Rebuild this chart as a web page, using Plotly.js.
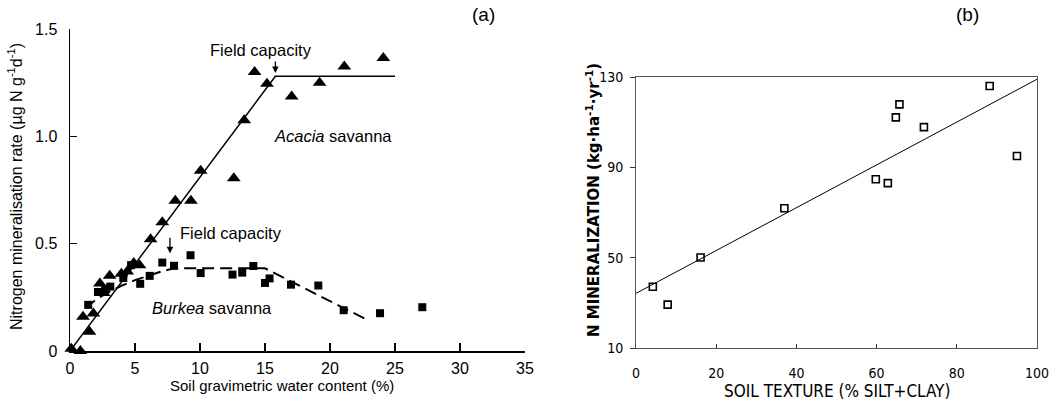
<!DOCTYPE html>
<html>
<head>
<meta charset="utf-8">
<script src="https://cdn.plot.ly/plotly-3.0.1.min.js"></script>
<style>html,body{margin:0;padding:0;background:#fff;}#chart{width:1059px;height:402px;}</style>
</head>
<body>
<div id="chart"></div>
<script>
// ---- Panel (a): Nitrogen mineralisation vs soil water content ----
const acaciaX = [0.1, 0.8, 1.0, 1.5, 1.8, 2.3, 2.6, 3.05, 3.95, 4.4, 4.9, 5.35, 6.2, 7.1, 8.1, 9.3, 10.05, 12.6, 13.4, 14.2, 15.15, 17.05, 19.2, 21.1, 24.1];
const acaciaY = [0.01, 0.0, 0.16, 0.09, 0.175, 0.315, 0.27, 0.35, 0.36, 0.37, 0.41, 0.40, 0.52, 0.60, 0.70, 0.70, 0.84, 0.805, 1.075, 1.30, 1.245, 1.185, 1.25, 1.325, 1.365];
const burkeaX = [1.4, 2.15, 2.7, 3.1, 4.1, 4.7, 5.4, 6.13, 7.1, 8.0, 9.27, 10.05, 12.5, 13.25, 14.1, 15.0, 15.35, 17.0, 19.1, 21.05, 23.85, 27.1];
const burkeaY = [0.215, 0.275, 0.29, 0.30, 0.34, 0.40, 0.313, 0.35, 0.412, 0.397, 0.446, 0.363, 0.356, 0.365, 0.396, 0.317, 0.338, 0.309, 0.305, 0.19, 0.176, 0.204];
const acaciaFitX = [0, 15.8, 25];
const acaciaFitY = [0, 1.28, 1.28];
const burkeaFitX = [1.2, 2.0, 3.0, 4.0, 5.0, 6.0, 7.0, 8.0, 15.0, 22.7];
const burkeaFitY = [0.20, 0.24, 0.275, 0.305, 0.33, 0.35, 0.37, 0.385, 0.385, 0.15];
const aTickVals = [0, 5, 10, 15, 20, 25, 30, 35];
const aYTickVals = [0, 0.5, 1.0, 1.5];
const aYTickText = ['0', '0.5', '1.0', '1.5'];

// ---- Panel (b): N mineralization vs soil texture ----
const textureX = [4.2, 7.9, 16.1, 37.0, 59.8, 62.8, 64.8, 65.7, 71.8, 88.2, 95.0];
const mineralY = [37.1, 29.2, 50.1, 71.9, 84.7, 83.0, 112.1, 117.9, 107.8, 126.0, 95.0];
const fitBX = [0, 100];
const fitBY = [34.2, 129.0];
const bXTickVals = [0, 20, 40, 60, 80, 100];
const bYTickVals = [10, 50, 90, 130];

const W = 1059, H = 402;
const px = v => v / W;
const py = v => 1 - v / H;

const fontA = 'Liberation Sans, Arial, Helvetica, sans-serif';
const fontB = 'Liberation Sans Narrow, DejaVu Sans Condensed, Arial Narrow, sans-serif';

const traces = [
  {x: acaciaFitX, y: acaciaFitY, mode: 'lines', line: {color: '#000', width: 1.5}, xaxis: 'x', yaxis: 'y', cliponaxis: false, hoverinfo: 'skip'},
  {x: burkeaFitX, y: burkeaFitY, mode: 'lines', line: {color: '#000', width: 2, dash: '12px,6px'}, xaxis: 'x', yaxis: 'y', cliponaxis: false, hoverinfo: 'skip'},
  {x: acaciaX, y: acaciaY, mode: 'markers', marker: {symbol: 'triangle-up', size: 12, color: '#000'}, xaxis: 'x', yaxis: 'y', cliponaxis: false},
  {x: burkeaX, y: burkeaY, mode: 'markers', marker: {symbol: 'square', size: 8, color: '#000'}, xaxis: 'x', yaxis: 'y', cliponaxis: false},
  {x: fitBX, y: fitBY, mode: 'lines', line: {color: '#000', width: 1}, xaxis: 'x2', yaxis: 'y2', hoverinfo: 'skip'},
  {x: textureX, y: mineralY, mode: 'markers', marker: {symbol: 'square-open', size: 7, color: '#000', line: {width: 1.6, color: '#000'}}, xaxis: 'x2', yaxis: 'y2', cliponaxis: false}
];

const layout = {
  width: W, height: H,
  margin: {l: 0, r: 0, t: 0, b: 0},
  paper_bgcolor: '#fff', plot_bgcolor: 'rgba(0,0,0,0)',
  showlegend: false,
  xaxis: {
    domain: [px(70), px(525)], range: [0, 35], anchor: 'y',
    tickvals: aTickVals, ticks: 'inside', ticklen: 8, tickwidth: 1.5, tickcolor: '#000',
    showline: true, linecolor: '#000', linewidth: 1.5, showgrid: false, zeroline: false,
    tickfont: {family: fontA, size: 16, color: '#000'}, ticklabelstandoff: 2
  },
  yaxis: {
    domain: [py(351), py(29)], range: [0, 1.5], anchor: 'x',
    tickvals: aYTickVals, ticktext: aYTickText, ticks: 'inside', ticklen: 7, tickwidth: 1.5, tickcolor: '#000',
    showline: true, linecolor: '#000', linewidth: 1.5, showgrid: false, zeroline: false,
    tickfont: {family: fontA, size: 16, color: '#000'}, ticklabelstandoff: 8
  },
  xaxis2: {
    domain: [px(636), px(1037)], range: [0, 100], anchor: 'y2',
    tickvals: bXTickVals, ticks: 'inside', ticklen: 4, tickwidth: 1, tickcolor: '#333',
    showline: true, mirror: true, linecolor: '#555', linewidth: 1, showgrid: false, zeroline: false,
    tickfont: {family: fontB, size: 14, color: '#000'}, ticklabelstandoff: 12
  },
  yaxis2: {
    domain: [py(348), py(77)], range: [10, 130], anchor: 'x2',
    tickvals: bYTickVals, ticks: 'outside', ticklen: 5, tickwidth: 1, tickcolor: '#333',
    showline: true, mirror: true, linecolor: '#555', linewidth: 1, showgrid: false, zeroline: false,
    tickfont: {family: fontB, size: 14, color: '#000'}, ticklabelstandoff: 4
  },
  annotations: [
    {xref: 'paper', yref: 'paper', x: px(15), y: py(187), text: 'Nitrogen mineralisation rate (µg N g<sup>-1</sup>d<sup>-1</sup>)', textangle: -90, showarrow: false, font: {family: fontA, size: 16, color: '#000'}, xanchor: 'center', yanchor: 'middle'},
    {xref: 'paper', yref: 'paper', x: px(282), y: py(385), text: 'Soil gravimetric water content (%)', showarrow: false, font: {family: fontA, size: 15, color: '#000'}, xanchor: 'center', yanchor: 'middle'},
    {xref: 'paper', yref: 'paper', x: px(483), y: py(15), text: '(a)', showarrow: false, font: {family: fontA, size: 19, color: '#000'}, xanchor: 'center', yanchor: 'middle'},
    {xref: 'paper', yref: 'paper', x: px(967), y: py(15), text: '(b)', showarrow: false, font: {family: fontA, size: 19, color: '#000'}, xanchor: 'center', yanchor: 'middle'},
    {xref: 'x', yref: 'y', x: 14.73, y: 1.403, text: 'Field capacity', showarrow: false, font: {family: fontA, size: 16.5, color: '#000'}, xanchor: 'center', yanchor: 'middle'},
    {xref: 'x', yref: 'y', x: 15.8, y: 1.295, ax: 0, ay: -13, text: '', showarrow: true, arrowhead: 2, arrowsize: 1, arrowwidth: 1.3, arrowcolor: '#000'},
    {xref: 'x', yref: 'y', x: 12.37, y: 0.55, text: 'Field capacity', showarrow: false, font: {family: fontA, size: 16.5, color: '#000'}, xanchor: 'center', yanchor: 'middle'},
    {xref: 'x', yref: 'y', x: 7.69, y: 0.455, ax: 0, ay: -17, text: '', showarrow: true, arrowhead: 2, arrowsize: 1, arrowwidth: 1.3, arrowcolor: '#000'},
    {xref: 'x', yref: 'y', x: 15.5, y: 1.0, text: '<i>Acacia</i> savanna', showarrow: false, font: {family: fontA, size: 16.5, color: '#000'}, xanchor: 'left', yanchor: 'middle'},
    {xref: 'x', yref: 'y', x: 6.16, y: 0.20, text: '<i>Burkea</i> savanna', showarrow: false, font: {family: fontA, size: 16.5, color: '#000'}, xanchor: 'left', yanchor: 'middle'},
    {xref: 'paper', yref: 'paper', x: px(593), y: py(200), text: 'N MINERALIZATION (kg·ha<sup>-1</sup>·yr<sup>-1</sup>)', textangle: -90, showarrow: false, font: {family: 'DejaVu Sans, sans-serif', size: 15, color: '#000', weight: 'bold'}, xanchor: 'center', yanchor: 'middle'},
    {xref: 'paper', yref: 'paper', x: px(837), y: py(391), text: 'SOIL TEXTURE (% SILT+CLAY)', showarrow: false, font: {family: fontB, size: 17, color: '#000'}, xanchor: 'center', yanchor: 'middle'}
  ]
};

Plotly.newPlot('chart', traces, layout, {staticPlot: true, displayModeBar: false});
</script>
</body>
</html>
